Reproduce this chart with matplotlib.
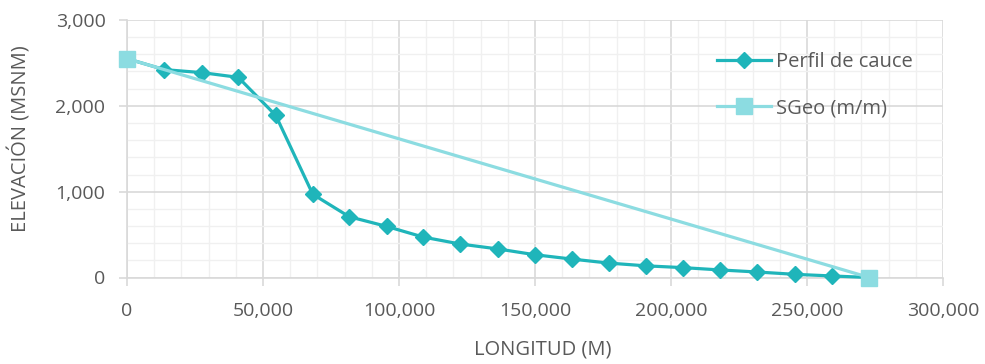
import matplotlib
matplotlib.use("Agg")
import matplotlib.pyplot as plt
from matplotlib.ticker import MultipleLocator, FuncFormatter

# Data
perfil_x = [0, 13700, 27500, 40900, 54700, 68300, 81700, 95500, 108900, 122500,
            136300, 150000, 163500, 177100, 190700, 204400, 218100, 231700,
            245500, 259100, 272900]
perfil_y = [2550, 2422, 2387, 2332, 1888, 970, 708, 595, 471, 390,
            333, 265, 215, 168, 136, 115, 88, 64, 37, 18, 0]
sgeo_x = [0, 272900]
sgeo_y = [2550, 0]

series_names = ["Perfil de cauce", "SGeo (m/m)"]
x_label = "LONGITUD (M)"
y_label = "ELEVACIÓN (MSNM)"

plt.rcParams['font.family'] = ['Open Sans', 'DejaVu Sans']
text_color = "#595959"

W, H = 985, 364
fig = plt.figure(figsize=(W/100, H/100), dpi=100)
ax = fig.add_axes([127/W, 1 - 277.5/H, (943-127)/W, (277.5-20)/H])

c1 = "#1FB5BA"
c2 = "#8CDCE1"
ax.plot(perfil_x, perfil_y, color=c1, lw=2.3, marker='D', markersize=8.5,
        label=series_names[0], zorder=3, clip_on=False)
ax.plot(sgeo_x, sgeo_y, color=c2, lw=2.3, marker='s', markersize=12,
        label=series_names[1], zorder=4, clip_on=False)

ax.set_xlim(0, 300000)
ax.set_ylim(0, 3000)
ax.xaxis.set_major_locator(MultipleLocator(50000))
ax.xaxis.set_minor_locator(MultipleLocator(10000))
ax.yaxis.set_major_locator(MultipleLocator(1000))
ax.yaxis.set_minor_locator(MultipleLocator(200))
fmt = FuncFormatter(lambda v, p: f"{int(round(v)):,}")
ax.xaxis.set_major_formatter(fmt)
ax.yaxis.set_major_formatter(fmt)

ax.grid(which='major', color="#D9D9D9", lw=1.2, zorder=0)
ax.grid(which='minor', color="#F0F0F0", lw=1.0, zorder=0)
ax.set_axisbelow(True)

for s in ['top', 'right']:
    ax.spines[s].set_visible(False)
for s in ['left', 'bottom']:
    ax.spines[s].set_color("#D9D9D9")
    ax.spines[s].set_linewidth(1.2)

ax.tick_params(which='major', length=5.5, color="#D9D9D9", width=1.2,
               labelsize=14, labelcolor=text_color)
ax.tick_params(axis='x', which='major', pad=12)
ax.tick_params(axis='y', which='major', pad=10)
ax.tick_params(which='minor', length=0)

fig.text(543/W, 1 - 350/H, x_label, fontsize=14.5, color=text_color,
         ha='center', va='center')
fig.text(20/W, 1 - 139/H, y_label, fontsize=14.5, color=text_color,
         ha='center', va='center', rotation=90)

leg = ax.legend(loc='center left', bbox_to_anchor=(717/W, 1 - 85/H),
                bbox_transform=fig.transFigure, frameon=False, fontsize=14.5,
                labelcolor=text_color, handlelength=2.7, handletextpad=0.25,
                labelspacing=1.3, borderaxespad=0, borderpad=0)

fig.savefig("out.png", dpi=100)
